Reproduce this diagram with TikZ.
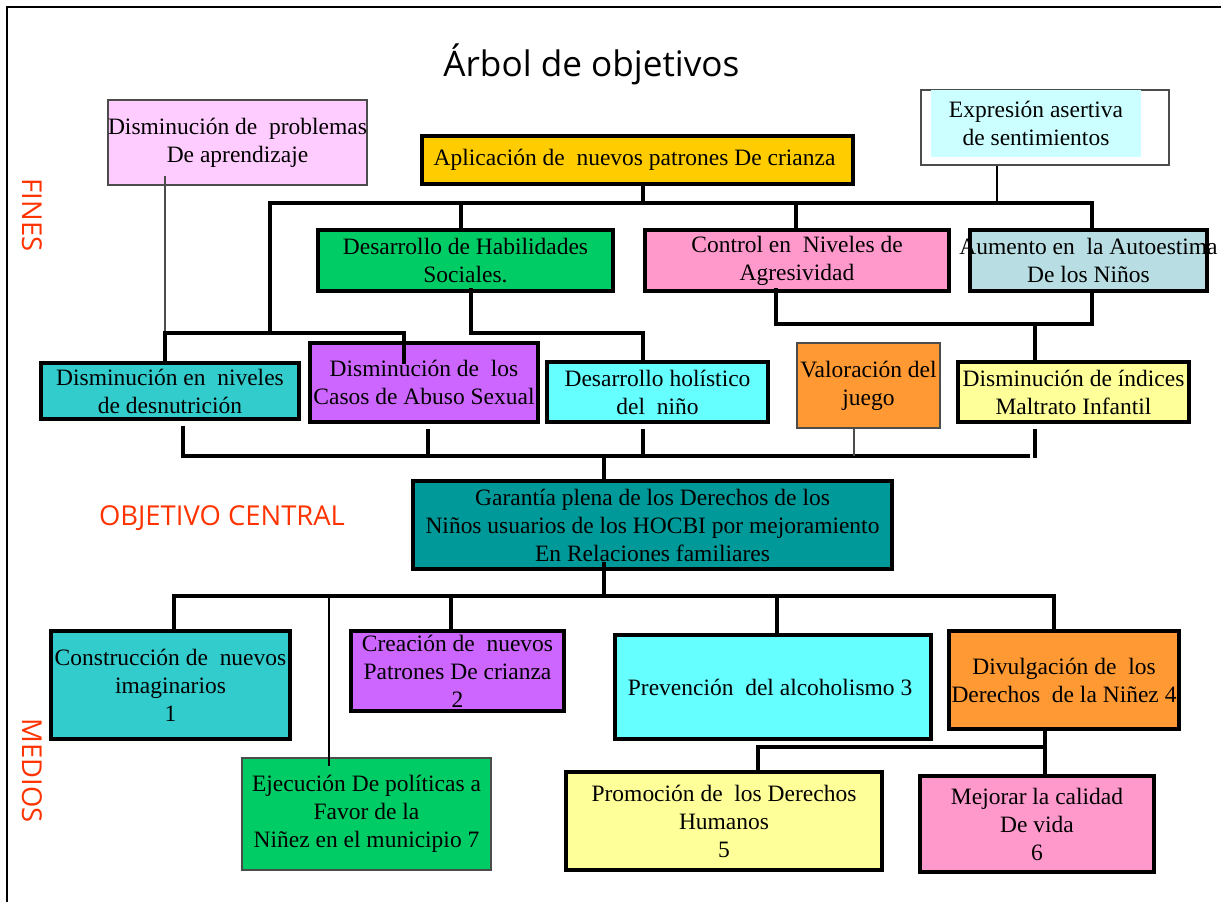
\documentclass[tikz,border=0pt]{standalone}
\usepackage{fontspec}
\setmainfont{Liberation Serif}
\newfontfamily\handfont{Open Sans}

\definecolor{probpink}{HTML}{FFCCFF}
\definecolor{gold}{HTML}{FFCC00}
\definecolor{paleCyan}{HTML}{CCFFFF}
\definecolor{leafGreen}{HTML}{00CC66}
\definecolor{rosePink}{HTML}{FF99CC}
\definecolor{greyBlue}{HTML}{B8DEE3}
\definecolor{seaTeal}{HTML}{33CCCC}
\definecolor{violet}{HTML}{CC66FF}
\definecolor{aqua}{HTML}{66FFFF}
\definecolor{orangeBox}{HTML}{FF9933}
\definecolor{paleYellow}{HTML}{FFFF99}
\definecolor{deepTeal}{HTML}{009999}
\definecolor{labelRed}{HTML}{FF3300}

\begin{document}
\begin{tikzpicture}[x=0.025cm, y=-0.025cm,
  every node/.style={font=\fontsize{16.7}{19.9}\selectfont, align=center, inner sep=0pt},
  wh/.style 2 args={minimum width=#1*0.025cm, minimum height=#2*0.025cm},
  box/.style={draw, line width=2.3pt},
  thinbox/.style={draw=black!70, line width=0.8pt},
  conn/.style={line width=2.3pt},
  thinconn/.style={line width=0.8pt},
  gap/.style={shorten <=3.5pt},
  hand/.style={font=\handfont\fontsize{19.5}{22}\selectfont, text=labelRed}]

  \useasboundingbox (0,0) rectangle (1221,902);

  \draw[line width=1.6pt] (7,902) -- (7,7) -- (1221,7);

  \node[font=\handfont\fontsize{25}{28}\selectfont] (title) at (596,64){
    Árbol de objetivos
  };

  \node[hand, rotate=-90] (fines) at (32,215){FINES};
  \node[hand] (central) at (222,518){OBJETIVO CENTRAL};
  \node[hand, rotate=-90] (medios) at (32,771){MEDIOS};

  %% fines
  \node[thinbox, fill=probpink, wh={259}{85}] (prob) at (237.5,142.5){
    \makebox[0pt]{Disminución de~ problemas}\\De aprendizaje
  };

  \node[box, fill=gold, wh={431}{48}] (aplic) at (637.5,160){
    Aplicación de~ nuevos patrones De crianza
  };

  \node[thinbox, fill=white, wh={248}{75}] (exprframe) at (1045,127.5){};

  \node[fill=paleCyan, wh={210}{67}] (expr) at (1036,123.5){
    Expresión asertiva\\de sentimientos
  };

  \node[box, fill=leafGreen, wh={295}{61}] (hab) at (465.5,260.5){
    Desarrollo de Habilidades\\Sociales.
  };

  \node[box, fill=rosePink, wh={304}{61}] (ctrl) at (797,260.5){
    Control en~ Niveles de\\Agresividad
  };

  \node[box, fill=greyBlue, wh={237}{61}] (aum) at (1088.5,260.5){
    \makebox[0pt]{Aumento en~ la Autoestima}\\De los Niños
  };

  \node[box, fill=seaTeal, wh={258}{56}] (desn) at (170,391){
    Disminución en~ niveles\\de desnutrición
  };

  \node[box, fill=violet, wh={228}{79}] (abuso) at (424,382.5){
    Disminución de~ los\\\makebox[0pt]{Casos de Abuso Sexual}
  };

  \node[box, fill=aqua, wh={221}{60}] (holis) at (657.5,392){
    Desarrollo holístico\\del~ niño
  };

  \node[thinbox, fill=orangeBox, wh={143}{85}] (valor) at (868.5,385.5){
    \makebox[0pt]{Valoración del}\\juego
  };

  \node[box, fill=paleYellow, wh={231}{60}] (maltr) at (1073.5,392){
    \makebox[0pt]{Disminución de índices}\\Maltrato Infantil
  };

  %% objetivo central
  \node[box, fill=deepTeal, wh={479}{88}] (cent) at (652.5,525){
    Garantía plena de los Derechos de los\\
    Niños usuarios de los HOCBI por mejoramiento\\
    En Relaciones familiares
  };

  %% medios
  \node[box, fill=seaTeal, wh={239}{108}] (constr) at (170.5,685){
    \makebox[0pt]{Construcción de~ nuevos}\\imaginarios\\1
  };

  \node[box, fill=violet, wh={213}{80}] (creac) at (457.5,671){
    Creación de~ nuevos\\Patrones De crianza\\2
  };

  \node[box, fill=aqua, wh={316}{104}] (prev) at (773,687){
    Prevención~ del alcoholismo 3
  };

  \node[box, fill=orangeBox, wh={230}{98}] (divul) at (1064,680){
    Divulgación de~ los\\\makebox[0pt]{Derechos~ de la Niñez 4}
  };

  \node[thinbox, fill=leafGreen, wh={249}{112}] (ejec) at (366.5,814){
    Ejecución De políticas a\\Favor de la\\Niñez en el municipio 7
  };

  \node[box, fill=paleYellow, wh={316}{98}] (promo) at (724,821){
    Promoción de~ los Derechos\\Humanos\\5
  };

  \node[box, fill=rosePink, wh={234}{96}] (mejor) at (1037,824){
    Mejorar la calidad\\De vida\\6
  };

  %% connectors, fines
  \draw[conn] (aplic.south -| 643,0) -- (643,203);
  \draw[conn] (270,333) -- (270,203) -| (aum.north -| 1092,0);
  \draw[conn] (hab.north -| 461,0) -- (461,203);
  \draw[conn] (ctrl.north -| 796,0) -- (796,203);
  \draw[thinconn] (exprframe.south -| 997,0) -- (997,203);
  \draw[thinconn, draw=black!70, shorten <=-7pt] (prob.south -| 165,0) -- (165,333);
  \draw[conn] (desn.north -| 165,0) |- (404,333) -- (404,364);
  \draw[conn, shorten <=-3pt] (hab.south -| 471,0) |- (643,333) -- (holis.north -| 643,0);
  \draw[conn, shorten <=-3pt] (ctrl.south -| 776,0) |- (1092,324) -- (aum.south -| 1092,0);
  \draw[conn] (1035,324) -- (maltr.north -| 1035,0);

  %% connectors, objetivo central
  \draw[conn, gap] (desn.south -| 183,0) |- (1030,456);
  \draw[conn, gap] (abuso.south -| 428,0) -- (428,456);
  \draw[conn, gap] (holis.south -| 643,0) -- (643,456);
  \draw[thinconn, draw=black!70] (valor.south -| 854,0) -- (854,456);
  \draw[conn, gap] (maltr.south -| 1035,0) -- (1035,458);
  \draw[conn] (604,456) -- (cent.north -| 604,0);

  %% connectors, medios
  \draw[conn, shorten <=-6pt] (cent.south -| 604,0) -- (604,598);
  \draw[conn] (constr.north -| 174,0) |- (1054,596) -- (divul.north -| 1054,0);
  \draw[conn] (creac.north -| 451,0) -- (451,596);
  \draw[conn] (prev.north -| 777,0) -- (777,596);
  \draw[thinconn, shorten >=-6pt] (329,596) -- (ejec.north -| 329,0);
  \draw[conn] (divul.south -| 1045,0) -- (mejor.north -| 1045,0);
  \draw[conn] (1045,747) -| (promo.north -| 758,0);
\end{tikzpicture}
\end{document}
